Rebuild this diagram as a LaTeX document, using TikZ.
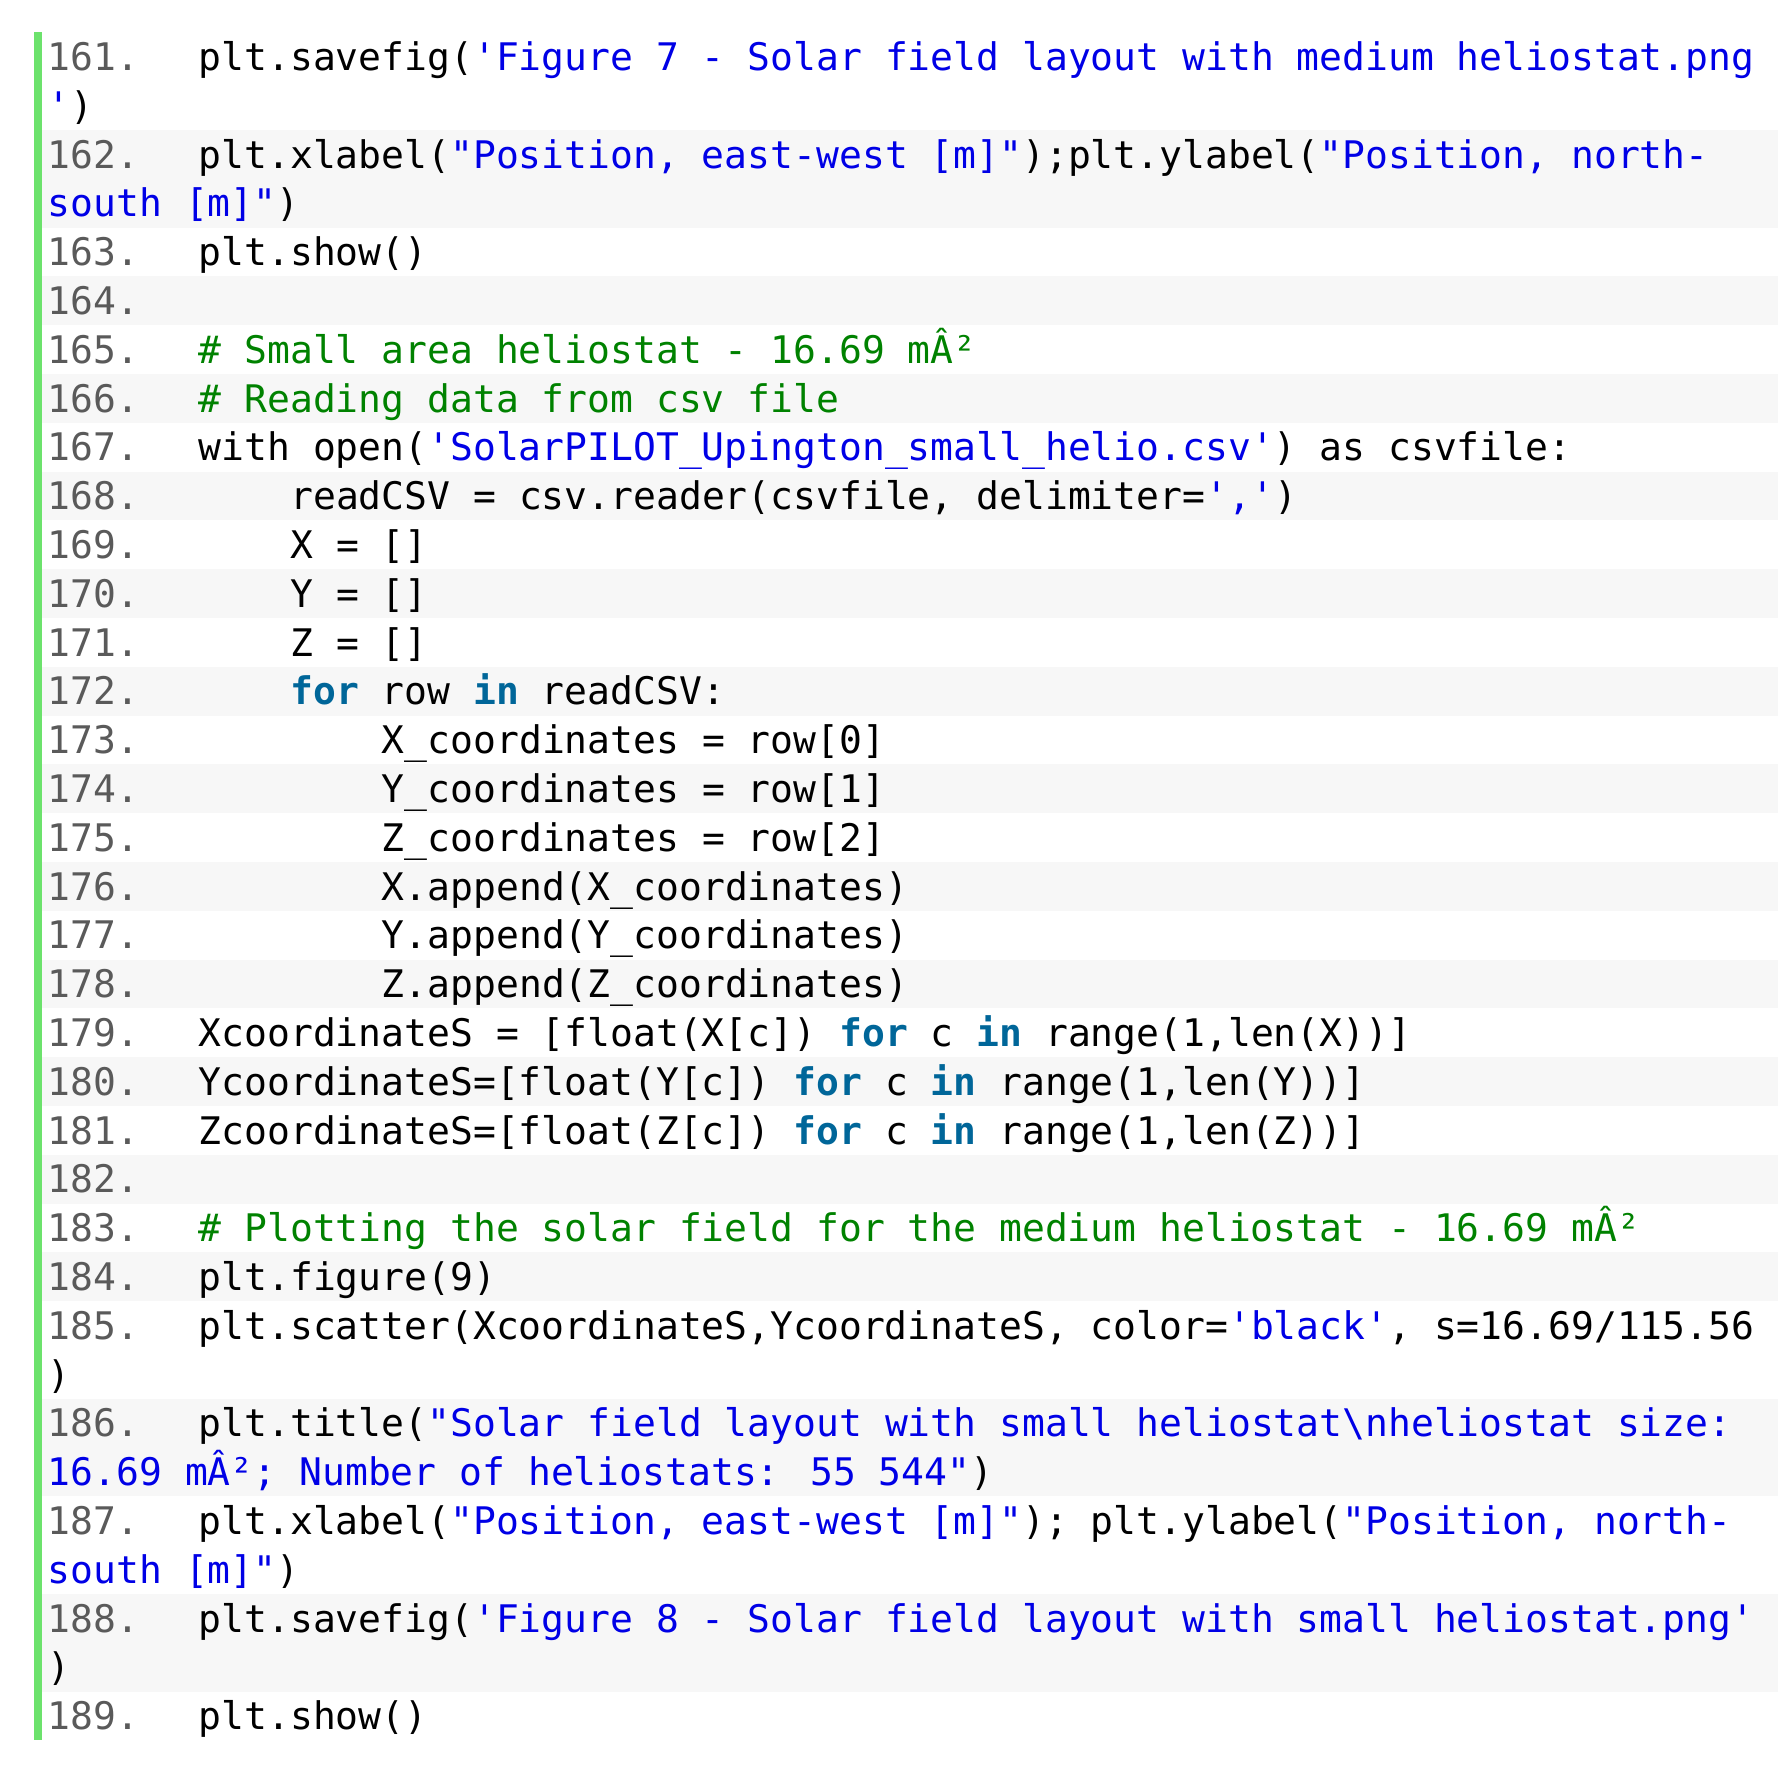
\documentclass[tikz,border=0pt]{standalone}
\usepackage{fontspec}
\newfontfamily\codefont{DejaVu Sans Mono}
\definecolor{strc}{HTML}{0000E6}
\definecolor{cmtc}{HTML}{008200}
\definecolor{kwc}{HTML}{006699}
\definecolor{numc}{HTML}{5A5A5A}
\definecolor{stripe}{HTML}{F7F7F7}
\definecolor{gutter}{HTML}{6CE26C}
\newcommand\Str[1]{\textcolor{strc}{#1}}
\newcommand\Cmt[1]{\textcolor{cmtc}{#1}}
\newcommand\Kw[1]{\textcolor{kwc}{\bfseries #1}}
\tikzset{codeline/.style={anchor=base west,inner sep=0pt,font=\codefont\fontsize{38}{46}\selectfont},
 numline/.style={codeline,text=numc}}
\newcommand\Ln[4]{% k, number, indent, text
 \node[numline] (num#1) at (47.6,{70.4+48.8*#1}) {#2};
 \node[codeline] (code#1) at ({198.5+22.9*#3},{70.4+48.8*#1}) {#4};}
\newcommand\Cont[2]{\node[codeline] (cont#1) at (47.6,{70.4+48.8*#1}) {#2};}
\newcommand\Stripe[2]{\fill[stripe] (42,{32.3+48.8*#1}) rectangle (1778,{32.3+48.8*(#2+1)});}
\begin{document}
\begin{tikzpicture}[x=1pt,y=-1pt]
\useasboundingbox (0,0) rectangle (1778,1765);
\fill[white] (0,0) rectangle (1778,1765);
\Stripe{2}{3}\Stripe{5}{5}\Stripe{7}{7}\Stripe{9}{9}\Stripe{11}{11}\Stripe{13}{13}
\Stripe{15}{15}\Stripe{17}{17}\Stripe{19}{19}\Stripe{21}{21}\Stripe{23}{23}\Stripe{25}{25}
\Stripe{28}{29}\Stripe{32}{33}
\fill[gutter] (34,32.3) rectangle (42,{32.3+48.8*35});
\Ln{0}{161.}{0}{plt.savefig(\Str{'Figure 7 - Solar field layout with medium heliostat.png}}
\Cont{1}{\Str{'})}
\Ln{2}{162.}{0}{plt.xlabel(\Str{"Position, east-west [m]"});plt.ylabel(\Str{"Position, north-}}
\Cont{3}{\Str{south [m]"})}
\Ln{4}{163.}{0}{plt.show()}
\Ln{5}{164.}{0}{}
\Ln{6}{165.}{0}{\Cmt{\# Small area heliostat - 16.69 mÂ²}}
\Ln{7}{166.}{0}{\Cmt{\# Reading data from csv file}}
\Ln{8}{167.}{0}{with open(\Str{'SolarPILOT\_Upington\_small\_helio.csv'}) as csvfile:}
\Ln{9}{168.}{4}{readCSV = csv.reader(csvfile, delimiter=\Str{','})}
\Ln{10}{169.}{4}{X = []}
\Ln{11}{170.}{4}{Y = []}
\Ln{12}{171.}{4}{Z = []}
\Ln{13}{172.}{4}{\Kw{for} row \Kw{in} readCSV:}
\Ln{14}{173.}{8}{X\_coordinates = row[0]}
\Ln{15}{174.}{8}{Y\_coordinates = row[1]}
\Ln{16}{175.}{8}{Z\_coordinates = row[2]}
\Ln{17}{176.}{8}{X.append(X\_coordinates)}
\Ln{18}{177.}{8}{Y.append(Y\_coordinates)}
\Ln{19}{178.}{8}{Z.append(Z\_coordinates)}
\Ln{20}{179.}{0}{XcoordinateS = [float(X[c]) \Kw{for} c \Kw{in} range(1,len(X))]}
\Ln{21}{180.}{0}{YcoordinateS=[float(Y[c]) \Kw{for} c \Kw{in} range(1,len(Y))]}
\Ln{22}{181.}{0}{ZcoordinateS=[float(Z[c]) \Kw{for} c \Kw{in} range(1,len(Z))]}
\Ln{23}{182.}{0}{}
\Ln{24}{183.}{0}{\Cmt{\# Plotting the solar field for the medium heliostat - 16.69 mÂ²}}
\Ln{25}{184.}{0}{plt.figure(9)}
\Ln{26}{185.}{0}{plt.scatter(XcoordinateS,YcoordinateS, color=\Str{'black'}, s=16.69/115.56}
\Cont{27}{)}
\Ln{28}{186.}{0}{plt.title(\Str{"Solar field layout with small heliostat\textbackslash nheliostat size:}}
\Cont{29}{\Str{16.69 mÂ²; Number of heliostats: 55 544"})}
\Ln{30}{187.}{0}{plt.xlabel(\Str{"Position, east-west [m]"}); plt.ylabel(\Str{"Position, north-}}
\Cont{31}{\Str{south [m]"})}
\Ln{32}{188.}{0}{plt.savefig(\Str{'Figure 8 - Solar field layout with small heliostat.png'}}
\Cont{33}{)}
\Ln{34}{189.}{0}{plt.show()}
\end{tikzpicture}
\end{document}
